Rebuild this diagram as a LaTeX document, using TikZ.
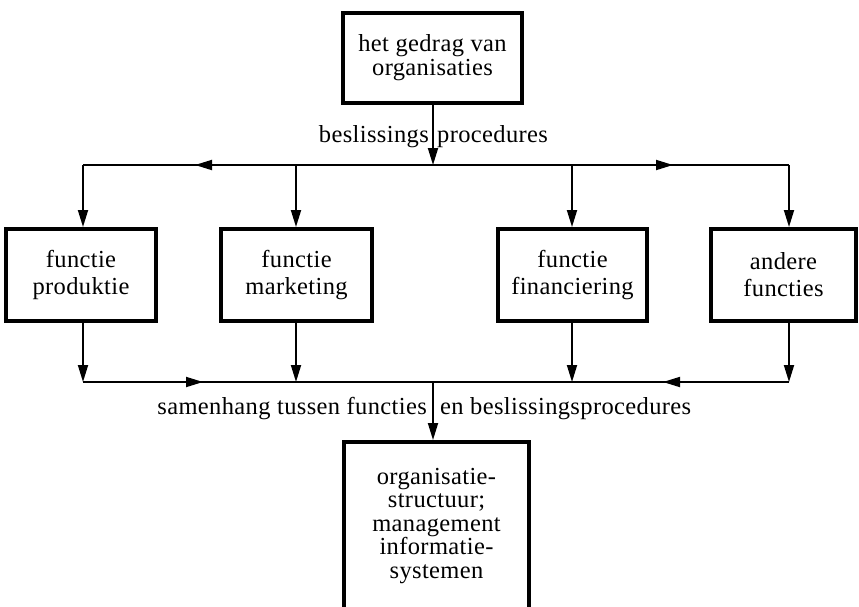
\documentclass[tikz,border=0pt]{standalone}
\usepackage{fontspec}
\setmainfont[LetterSpace=1.5]{Liberation Serif}
\usetikzlibrary{arrows.meta,decorations.markings}
\begin{document}
\begin{tikzpicture}[x=1pt,y=-1pt,
  box/.style={draw,line width=4pt,inner sep=0pt,align=center,
    font=\fontsize{24.5}{24}\selectfont},
  lbl/.style={inner sep=0pt,font=\fontsize{24.5}{24}\selectfont},
  conn/.style={line width=1.8pt},
  tip/.style={-{Triangle[length=17pt,width=10pt]}},
  midarrow/.style={postaction={decorate},decoration={markings,
    mark=at position #1 with {\arrow{Triangle[length=17pt,width=10pt]}}}}
]
\useasboundingbox (0,0) rectangle (859,606);
\clip (0,0) rectangle (859,606);
% boxes
\node[box,minimum width=179pt,minimum height=90pt] (top) at (432.5,58)
  {het gedrag van\\organisaties};
\node[box,minimum width=150pt,minimum height=92pt,font=\fontsize{24.5}{27}\selectfont] (f1) at (81,275)
  {functie\\produktie};
\node[box,minimum width=151pt,minimum height=92pt,font=\fontsize{24.5}{27}\selectfont] (f2) at (296.5,275)
  {functie\\marketing};
\node[box,minimum width=149pt,minimum height=92pt,font=\fontsize{24.5}{27}\selectfont] (f3) at (572.5,275)
  {functie\\financiering};
\node[box,minimum width=145pt,minimum height=92pt,font=\fontsize{24.5}{27}\selectfont] (f4) at (783.5,275)
  {andere\\functies};
\node[box,minimum width=185pt,minimum height=168pt,font=\fontsize{24.5}{23.5}\selectfont] (bot) at (436.5,526)
  {organisatie-\\structuur;\\management\\informatie-\\systemen};
% bus coordinates
\coordinate (j1) at (433,165);
\coordinate (t1) at (83,165);
\coordinate (t2) at (296,165);
\coordinate (t3) at (572,165);
\coordinate (t4) at (789,165);
\coordinate (jb) at (433,382);
\coordinate (b1) at (83,382);
\coordinate (b2) at (296,382);
\coordinate (b3) at (572,382);
\coordinate (b4) at (789,382);
% top connectors
\draw[conn,tip] (top.south -| j1) -- (j1);
\draw[conn,midarrow=238pt] (j1) -- (t1);
\draw[conn,tip] (t1) -- (t1 |- f1.north);
\draw[conn,tip] (t2) -- (t2 |- f2.north);
\draw[conn,midarrow=240pt] (j1) -- (t4);
\draw[conn,tip] (t3) -- (t3 |- f3.north);
\draw[conn,tip] (t4) -- (t4 |- f4.north);
% bottom connectors
\draw[conn,tip] (b1 |- f1.south) -- (b1);
\draw[conn,tip] (b2 |- f2.south) -- (b2);
\draw[conn,tip] (b3 |- f3.south) -- (b3);
\draw[conn,tip] (b4 |- f4.south) -- (b4);
\draw[conn,midarrow=120pt] (b1) -- (jb);
\draw[conn,midarrow=126pt] (b4) -- (jb);
\draw[conn,tip] (jb) -- (jb |- bot.north);
% labels
\node[lbl,anchor=base east] (l1) at (429,142) {beslissings};
\node[lbl,anchor=base west] (l2) at (437,142) {procedures};
\node[lbl,anchor=base east] (l3) at (427,414) {samenhang tussen functies};
\node[lbl,anchor=base west] (l4) at (440,414) {en beslissingsprocedures};
\end{tikzpicture}
\end{document}
